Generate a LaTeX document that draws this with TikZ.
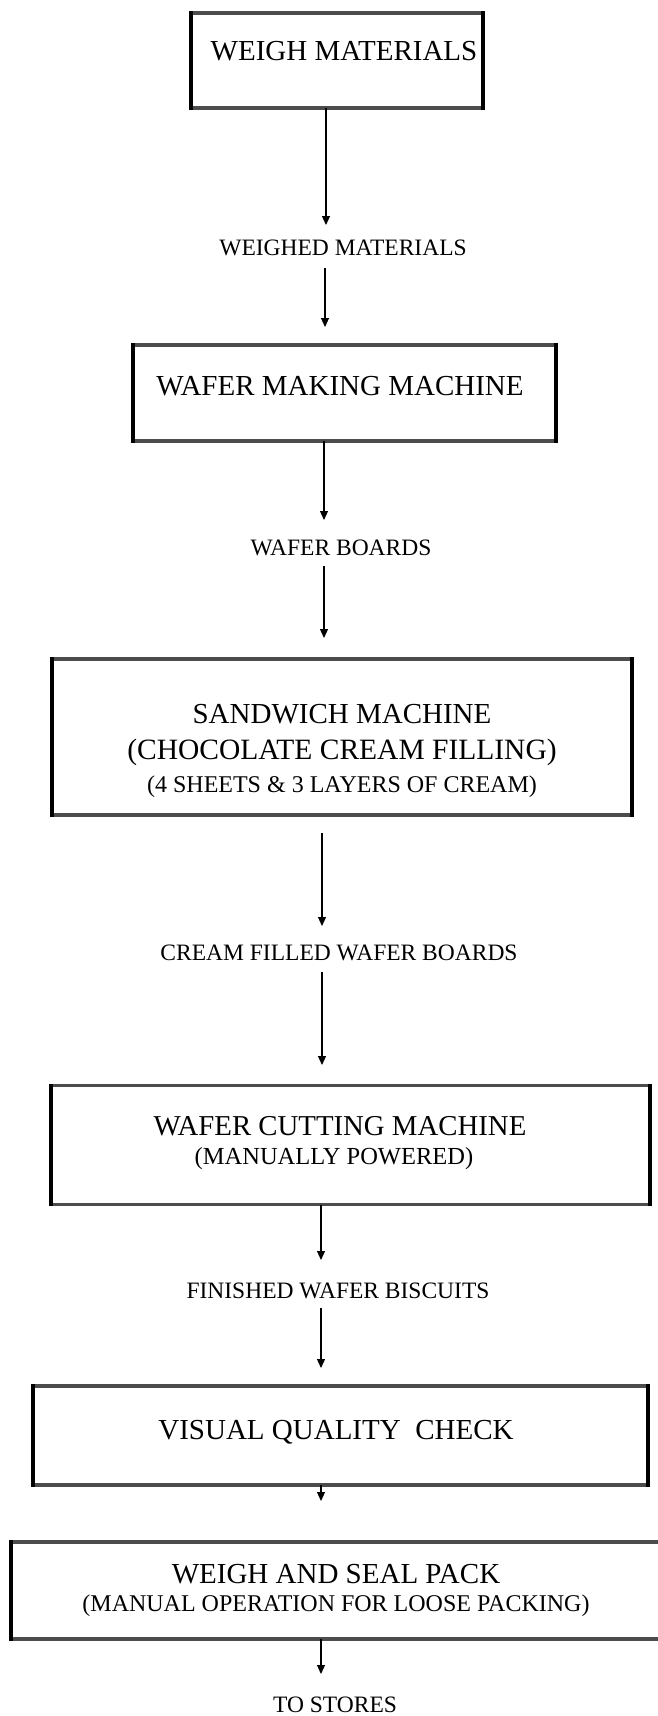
\documentclass[tikz,border=0pt]{standalone}
\usepackage{fontspec}
\setmainfont{Liberation Serif}
\usetikzlibrary{arrows.meta}
\tikzset{
  procbox/.style={draw=black!70, line width=3.4pt, inner sep=0pt, outer sep=0pt, rectangle},
  sideline/.style={draw=black, line width=3.6pt, line cap=rect},
  arr/.style={line width=1.1pt, -{Triangle[length=9pt,width=8pt]}},
  boxtext/.style={font=\fontsize{29}{33}\selectfont, inner sep=0pt, align=center},
  subtext/.style={font=\fontsize{24}{28}\selectfont, inner sep=0pt, align=center},
  flowlabel/.style={font=\fontsize{23.5}{27}\selectfont, inner sep=0pt}
}
\begin{document}
\begin{tikzpicture}[x=1pt,y=-1pt]
\useasboundingbox (0,0) rectangle (657,1716);
% boxes
\node[procbox, minimum width=292pt, minimum height=95pt] (b1) at (337,60.5) {};
\node[boxtext] (t1) at (344,51) {WEIGH MATERIALS};

\node[procbox, minimum width=423pt, minimum height=96pt] (b2) at (344.5,393) {};
\node[boxtext] (t2) at (340,386) {WAFER MAKING MACHINE};

\node[procbox, minimum width=580pt, minimum height=156pt] (b3) at (342,737) {};
\node[boxtext] (t3a) at (342,714) {SANDWICH MACHINE};
\node[boxtext, font=\fontsize{29.5}{33}\selectfont] (t3b) at (342,752) {(CHOCOLATE CREAM FILLING)};
\node[subtext, font=\fontsize{24}{28}\selectfont] (t3c) at (342,787) {(4 SHEETS \& 3 LAYERS OF CREAM)};

\node[procbox, minimum width=599pt, minimum height=119pt] (b4) at (350.5,1145) {};
\node[boxtext, font=\fontsize{28.8}{32}\selectfont] (t4a) at (340,1126) {WAFER CUTTING MACHINE};
\node[subtext, font=\fontsize{24.5}{28}\selectfont] (t4b) at (334,1159) {(MANUALLY POWERED)};

\node[procbox, minimum width=615pt, minimum height=99pt] (b5) at (340.5,1435.5) {};
\node[boxtext] (t5) at (336,1432) {VISUAL QUALITY\ \ CHECK};

\node[procbox, minimum width=650pt, minimum height=97pt] (b6) at (336,1590.5) {};
\node[boxtext] (t6a) at (336,1574) {WEIGH AND SEAL PACK};
\node[subtext] (t6b) at (336,1606) {(MANUAL OPERATION FOR LOOSE PACKING)};

% solid black side edges
\foreach \n in {b1,b2,b3,b4,b5,b6}{
  \draw[sideline] (\n.north west) -- (\n.south west);
  \draw[sideline] (\n.north east) -- (\n.south east);
}

% flow labels
\node[flowlabel] (l1) at (343,248) {WEIGHED MATERIALS};
\node[flowlabel] (l2) at (341,548) {WAFER BOARDS};
\node[flowlabel] (l3) at (339,953) {CREAM FILLED WAFER BOARDS};
\node[flowlabel] (l4) at (338,1291) {FINISHED WAFER BISCUITS};
\node[flowlabel] (l5) at (335,1705) {TO STORES};

% arrow end points
\coordinate (e1) at (326,225);
\coordinate (s2) at (325,268);
\coordinate (e2) at (325,327);
\coordinate (e3) at (324,520);
\coordinate (s4) at (324,566);
\coordinate (e4) at (324,638);
\coordinate (s5) at (322,833);
\coordinate (e5) at (322,926);
\coordinate (s6) at (322,972);
\coordinate (e6) at (322,1065);
\coordinate (e7) at (321,1260);
\coordinate (s8) at (321,1308);
\coordinate (e8) at (321,1368);
\coordinate (e9) at (321,1501);
\coordinate (e10) at (321,1674);

\draw[arr] (b1.south -| e1) -- (e1);
\draw[arr] (s2) -- (e2);
\draw[arr] (b2.south -| e3) -- (e3);
\draw[arr] (s4) -- (e4);
\draw[arr] (s5) -- (e5);
\draw[arr] (s6) -- (e6);
\draw[arr] (b4.south -| e7) -- (e7);
\draw[arr] (s8) -- (e8);
\draw[arr] (b5.south -| e9) -- (e9);
\draw[arr] (b6.south -| e10) -- (e10);
\end{tikzpicture}
\end{document}
